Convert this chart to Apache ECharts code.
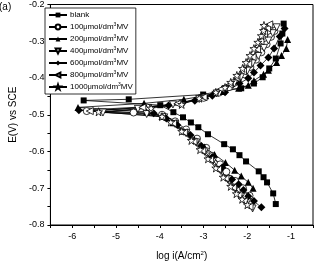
<!DOCTYPE html>
<html>
<head>
<meta charset="utf-8">
<script src="https://cdn.jsdelivr.net/npm/echarts@6/dist/echarts.min.js"></script>
<style>
html, body { margin: 0; padding: 0; background: #fff; }
#chart { width: 316px; height: 273px; }
</style>
</head>
<body>
<div id="chart"></div>
<script>
// 数据：log i (x) 与 E (y)，按电位从低到高排列
const blankX = [-1.35, -1.41, -1.55, -1.63, -1.74, -2.03, -2.18, -2.33, -2.53, -2.90, -3.12, -3.29, -3.47, -3.69, -3.99, -5.74, -4.71, -3.01, -2.53, -2.14, -1.85, -1.65, -1.50, -1.35, -1.24, -1.20, -1.17];
const blankY = [-0.743, -0.714, -0.684, -0.670, -0.654, -0.627, -0.610, -0.594, -0.580, -0.553, -0.534, -0.521, -0.507, -0.493, -0.474, -0.461, -0.458, -0.445, -0.433, -0.428, -0.415, -0.398, -0.374, -0.347, -0.306, -0.279, -0.252];

const c100X = [-1.95, -2.10, -2.28, -2.48, -2.62, -2.80, -2.94, -3.15, -3.40, -3.65, -3.95, -4.60, -5.67, -4.30, -3.50, -3.00, -2.65, -2.42, -2.22, -2.07, -1.93, -1.80, -1.68, -1.56, -1.46, -1.38];
const c100Y = [-0.720, -0.700, -0.680, -0.655, -0.635, -0.612, -0.590, -0.565, -0.540, -0.518, -0.500, -0.494, -0.490, -0.480, -0.468, -0.454, -0.440, -0.425, -0.408, -0.390, -0.370, -0.350, -0.330, -0.308, -0.288, -0.272];

const c200X = [-1.87, -1.98, -2.14, -2.29, -2.50, -2.75, -2.98, -3.21, -3.45, -3.70, -3.95, -4.30, -5.87, -4.36, -3.45, -2.95, -2.55, -2.20, -1.98, -1.85, -1.63, -1.52, -1.33, -1.22, -1.11, -1.08];
const c200Y = [-0.700, -0.684, -0.667, -0.651, -0.630, -0.608, -0.588, -0.567, -0.545, -0.522, -0.505, -0.492, -0.480, -0.469, -0.458, -0.448, -0.437, -0.428, -0.420, -0.407, -0.390, -0.379, -0.358, -0.339, -0.320, -0.295];

const c400X = [-1.88, -2.00, -2.13, -2.27, -2.44, -2.60, -2.78, -2.97, -3.17, -3.40, -3.65, -3.90, -4.30, -5.30, -4.50, -3.70, -3.10, -2.70, -2.50, -2.30, -2.15, -2.00, -1.88, -1.75, -1.62, -1.52, -1.42, -1.33];
const c400Y = [-0.755, -0.738, -0.720, -0.700, -0.675, -0.650, -0.625, -0.600, -0.575, -0.550, -0.525, -0.507, -0.498, -0.494, -0.484, -0.472, -0.457, -0.442, -0.430, -0.415, -0.398, -0.380, -0.360, -0.340, -0.318, -0.298, -0.278, -0.262];

const c600X = [-1.68, -1.85, -1.98, -2.09, -2.20, -2.35, -2.57, -2.80, -3.05, -3.30, -3.60, -3.85, -4.14, -5.85, -3.80, -3.20, -2.80, -2.51, -2.18, -1.98, -1.85, -1.70, -1.52, -1.39, -1.26, -1.15];
const c600Y = [-0.752, -0.735, -0.722, -0.705, -0.689, -0.676, -0.643, -0.615, -0.585, -0.555, -0.528, -0.510, -0.496, -0.488, -0.475, -0.462, -0.448, -0.439, -0.415, -0.401, -0.385, -0.366, -0.344, -0.320, -0.287, -0.265];

const c800X = [-1.95, -2.07, -2.20, -2.33, -2.50, -2.67, -2.85, -3.03, -3.23, -3.45, -3.70, -3.95, -5.60, -4.40, -3.60, -3.00, -2.60, -2.40, -2.25, -2.10, -1.98, -1.88, -1.78, -1.70, -1.62, -1.55, -1.50];
const c800Y = [-0.750, -0.735, -0.718, -0.698, -0.673, -0.648, -0.622, -0.598, -0.573, -0.548, -0.523, -0.505, -0.490, -0.480, -0.470, -0.452, -0.430, -0.418, -0.400, -0.382, -0.362, -0.343, -0.322, -0.300, -0.280, -0.265, -0.254];

const c1000X = [-2.00, -2.12, -2.25, -2.38, -2.55, -2.72, -2.90, -3.08, -3.28, -3.50, -3.75, -3.95, -5.40, -4.20, -3.50, -3.10, -2.72, -2.51, -2.38, -2.24, -2.11, -2.03, -1.94, -1.85, -1.76, -1.68, -1.63, -1.62];
const c1000Y = [-0.745, -0.730, -0.715, -0.695, -0.670, -0.645, -0.620, -0.595, -0.570, -0.545, -0.520, -0.505, -0.492, -0.482, -0.472, -0.455, -0.439, -0.426, -0.412, -0.393, -0.374, -0.358, -0.339, -0.320, -0.303, -0.285, -0.271, -0.257];

const xTicks = [-6, -5, -4, -3, -2, -1];
const yTicks = [-0.8, -0.7, -0.6, -0.5, -0.4, -0.3, -0.2];

const INV_TRI = 'path://M0,0 L10,0 L5,10 Z';
const LEFT_TRI = 'path://M10,0 L10,10 L0,5 Z';
const STAR = 'path://M5,0 L6.2,3.6 L10,3.6 L6.9,5.9 L8.1,9.5 L5,7.3 L1.9,9.5 L3.1,5.9 L0,3.6 L3.8,3.6 Z';

function zip(xs, ys) {
    return xs.map((x, i) => [x, ys[i]]);
}

function makeSeries(name, xs, ys, symbol, size, filled) {
    return {
        name: name,
        type: 'line',
        data: zip(xs, ys),
        symbol: symbol,
        symbolSize: size,
        showAllSymbol: true,
        lineStyle: { color: '#000', width: 0.8 },
        itemStyle: filled
            ? { color: '#000', borderColor: '#000', borderWidth: 0 }
            : { color: '#fff', borderColor: '#000', borderWidth: 0.8 },
        emphasis: { disabled: true },
        z: 2
    };
}

const conc = (n) => n + '{u|μ}mol/dm{s|3}MV';

const chart = echarts.init(document.getElementById('chart'));

const option = {
    animation: false,
    textStyle: { fontFamily: 'Liberation Sans, Arial, sans-serif' },
    graphic: [{
        type: 'text',
        left: -1,
        top: 2,
        style: { text: '(a)', fontSize: 10, fill: '#000', fontFamily: 'Liberation Sans' }
    }],
    grid: {
        left: 40,
        right: 2,
        top: 4,
        bottom: 48,
        show: true,
        borderColor: '#000',
        borderWidth: 1
    },
    legend: {
        orient: 'vertical',
        left: 45,
        top: 8,
        itemWidth: 18,
        itemHeight: 6,
        itemGap: 3.5,
        padding: [3, 3, 3, 3],
        backgroundColor: '#fff',
        borderColor: '#000',
        borderWidth: 0.8,
        borderRadius: 0,
        textStyle: {
            fontSize: 8,
            color: '#000',
            padding: [0, 0, 0, -2],
            rich: {
                u: { fontSize: 7 },
                s: { fontSize: 5, verticalAlign: 'top', padding: [0, 0, 4, 0] }
            }
        },
        formatter: function (name) {
            return name === 'blank' ? name : conc(name.replace('uM', ''));
        },
        data: ['blank', '100uM', '200uM', '400uM', '600uM', '800uM', '1000uM']
    },
    xAxis: {
        type: 'value',
        min: -6.5,
        max: -0.5,
        interval: 0.5,
        name: 'log i(A/cm{s|2})',
        nameLocation: 'middle',
        nameGap: 25,
        nameTextStyle: {
            fontSize: 10,
            color: '#000',
            rich: { s: { fontSize: 6, verticalAlign: 'top', padding: [0, 0, 6, 0] } }
        },
        axisLine: { onZero: false, lineStyle: { color: '#000', width: 1 } },
        axisTick: { inside: false, length: 3, lineStyle: { color: '#000' } },
        axisLabel: {
            fontSize: 9,
            color: '#000',
            margin: 7,
            formatter: function (v) {
                return xTicks.indexOf(v) >= 0 ? String(v) : '';
            }
        },
        splitLine: { show: false }
    },
    yAxis: {
        type: 'value',
        min: -0.8,
        max: -0.2,
        interval: 0.05,
        name: 'E(V) vs SCE',
        nameLocation: 'middle',
        nameGap: 29,
        nameTextStyle: { fontSize: 10, color: '#000' },
        axisLine: { onZero: false, lineStyle: { color: '#000', width: 1 } },
        axisTick: { inside: false, length: 3, lineStyle: { color: '#000' } },
        axisLabel: {
            fontSize: 9,
            color: '#000',
            margin: 6,
            formatter: function (v) {
                const hit = yTicks.find(t => Math.abs(t - v) < 1e-6);
                return hit !== undefined ? hit.toFixed(1) : '';
            }
        },
        splitLine: { show: false }
    },
    series: [
        makeSeries('blank', blankX, blankY, 'rect', 6, true),
        makeSeries('100uM', c100X, c100Y, 'circle', 7, false),
        makeSeries('200uM', c200X, c200Y, 'triangle', 7, true),
        makeSeries('400uM', c400X, c400Y, INV_TRI, 7, false),
        makeSeries('600uM', c600X, c600Y, 'diamond', 8, true),
        makeSeries('800uM', c800X, c800Y, LEFT_TRI, 7, false),
        makeSeries('1000uM', c1000X, c1000Y, STAR, 8, false)
    ]
};

chart.setOption(option);
</script>
</body>
</html>
